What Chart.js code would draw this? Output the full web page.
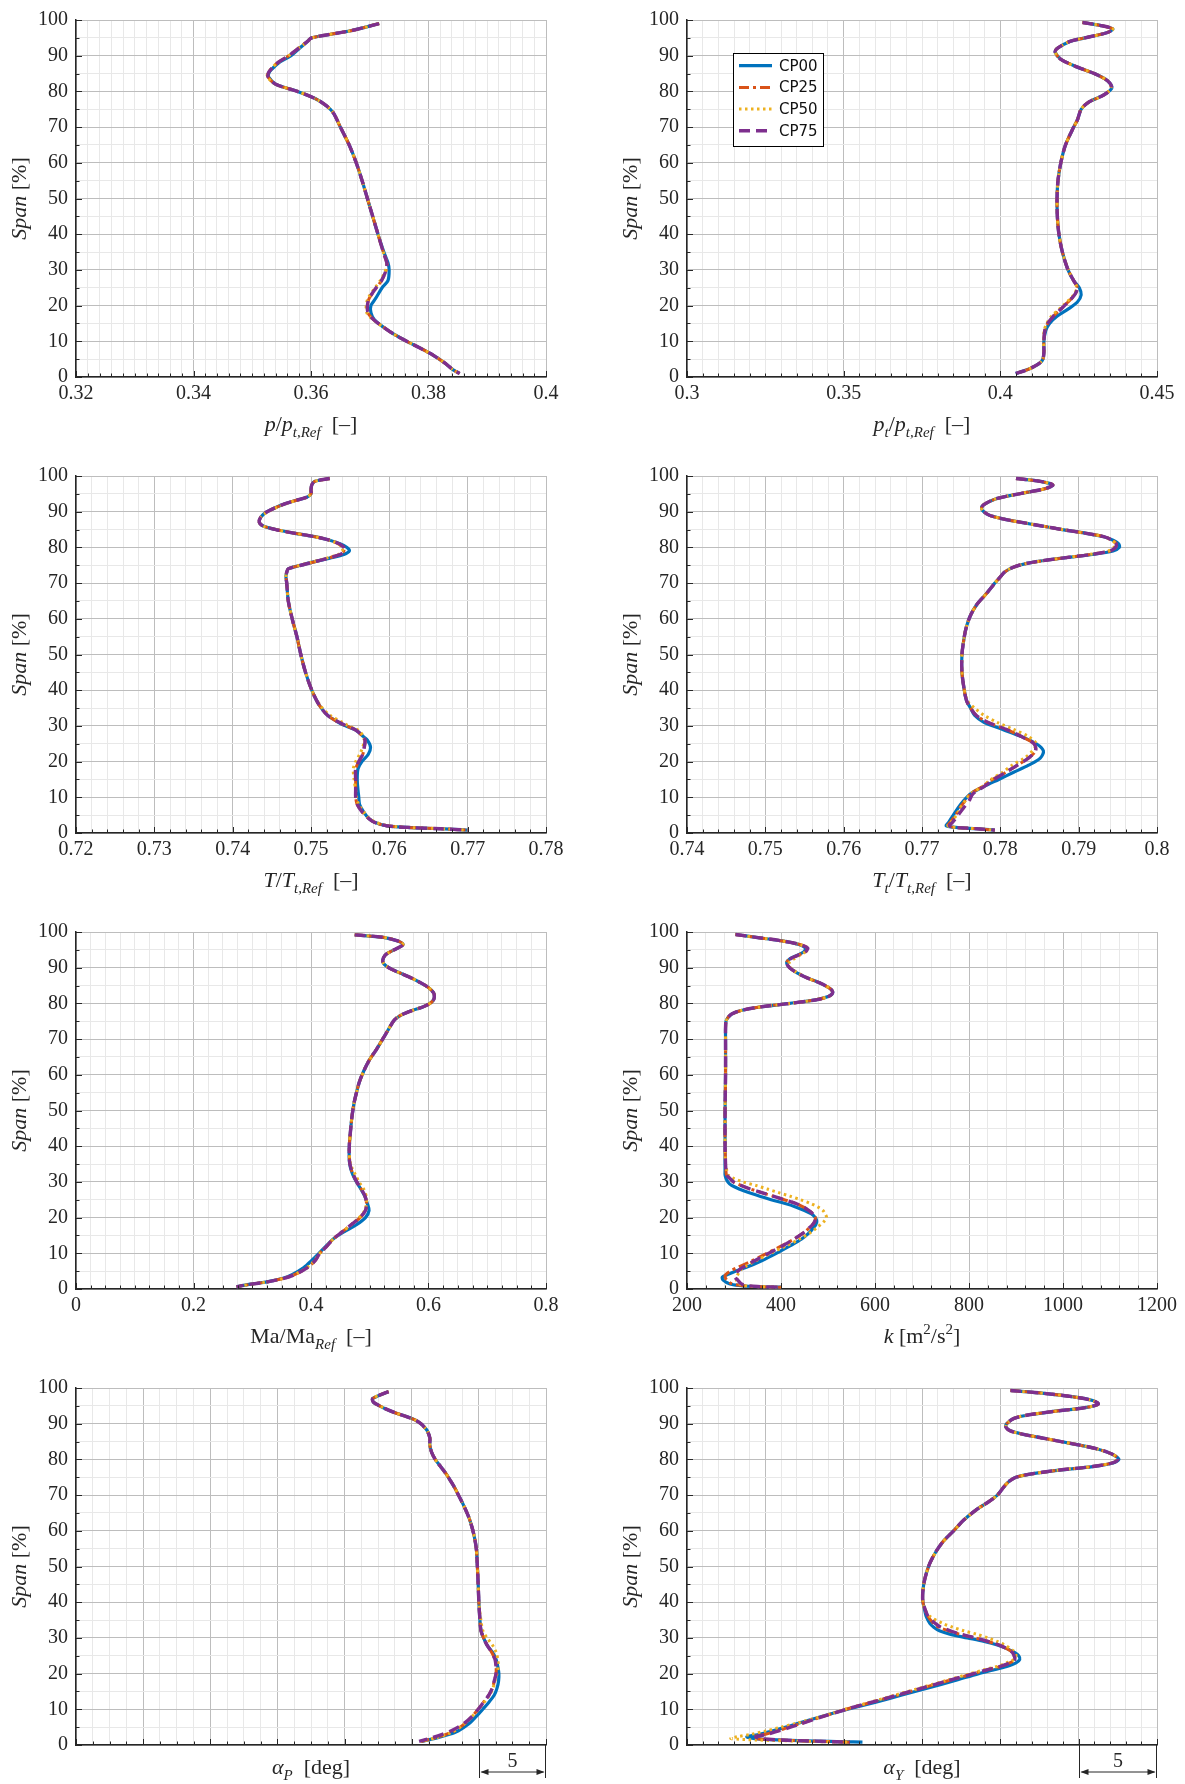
<!DOCTYPE html>
<html>
<head>
<meta charset="utf-8">
<script src="https://cdn.jsdelivr.net/npm/chart.js@4.4.1/dist/chart.umd.min.js"></script>
<style>
  html, body { margin: 0; padding: 0; background: #fff; }
  body { width: 1185px; height: 1784px; position: relative; overflow: hidden; }
  canvas { position: absolute; }
</style>
</head>
<body>
<canvas id="c1"></canvas><canvas id="c2"></canvas>
<canvas id="c3"></canvas><canvas id="c4"></canvas>
<canvas id="c5"></canvas><canvas id="c6"></canvas>
<canvas id="c7"></canvas><canvas id="c8"></canvas>
<script>
// ---- series ----
const seriesNames = ["CP00", "CP25", "CP50", "CP75"];
const seriesColors = ["#0072BD", "#D95319", "#EDB120", "#7E2F8E"];

// ---- x axes: [min, max, major step, minor step] per panel ----
const xMin = [0.32, 0.3, 0.72, 0.74, 0, 200, 0, 0];
const xMax = [0.4, 0.45, 0.78, 0.8, 0.8, 1200, 35, 30];
const xMajor = [0.02, 0.05, 0.01, 0.01, 0.2, 200, 5, 5];
const xMinor = [0.002, 0.005, 0.002, 0.002, 0.025, 40, 1.25, 1];
const spanTicks = [0, 100, 10, 5];

// ---- panel 1: p/pt,Ref ----
const p1Span = [99, 97, 95, 94, 92, 90, 88, 86, 85, 84, 82, 80, 78, 76, 74, 70, 65, 60, 55, 50, 45, 40, 35, 32, 30, 27, 25, 22, 20, 18, 16, 14, 12, 10, 8, 6, 4, 2, 1];
const p1CP00 = [0.3716, 0.3668, 0.3601, 0.3594, 0.3580, 0.3566, 0.3545, 0.3532, 0.3528, 0.3528, 0.3540, 0.3577, 0.3607, 0.3626, 0.3638, 0.3650, 0.3665, 0.3677, 0.3687, 0.3696, 0.3705, 0.3714, 0.3724, 0.3731, 0.3733, 0.3731, 0.3721, 0.3710, 0.3702, 0.3702, 0.3708, 0.3723, 0.3741, 0.3763, 0.3787, 0.3809, 0.3827, 0.3842, 0.3853];
const p1CP25 = [0.3716, 0.3668, 0.3601, 0.3594, 0.3578, 0.3562, 0.3543, 0.3531, 0.3527, 0.3527, 0.3540, 0.3577, 0.3607, 0.3626, 0.3638, 0.3650, 0.3665, 0.3677, 0.3687, 0.3696, 0.3705, 0.3714, 0.3723, 0.3729, 0.3728, 0.3720, 0.3711, 0.3699, 0.3696, 0.3697, 0.3707, 0.3723, 0.3741, 0.3763, 0.3787, 0.3809, 0.3827, 0.3842, 0.3853];
const p1CP50 = [0.3716, 0.3668, 0.3601, 0.3594, 0.3578, 0.3562, 0.3543, 0.3530, 0.3526, 0.3526, 0.3540, 0.3577, 0.3607, 0.3626, 0.3638, 0.3650, 0.3665, 0.3677, 0.3687, 0.3696, 0.3705, 0.3714, 0.3723, 0.3729, 0.3727, 0.3718, 0.3709, 0.3697, 0.3694, 0.3695, 0.3706, 0.3723, 0.3741, 0.3763, 0.3787, 0.3809, 0.3827, 0.3842, 0.3853];
const p1CP75 = [0.3716, 0.3668, 0.3601, 0.3594, 0.3578, 0.3562, 0.3543, 0.3531, 0.3527, 0.3527, 0.3540, 0.3577, 0.3607, 0.3626, 0.3638, 0.3650, 0.3665, 0.3677, 0.3687, 0.3696, 0.3705, 0.3714, 0.3723, 0.3729, 0.3728, 0.3720, 0.3711, 0.3699, 0.3696, 0.3697, 0.3707, 0.3723, 0.3741, 0.3763, 0.3787, 0.3809, 0.3827, 0.3842, 0.3853];

// ---- panel 2: pt/pt,Ref ----
const p2Span = [99.3, 98.5, 97.5, 96.5, 95, 94, 92, 91, 89, 87, 85, 83, 81, 79, 77, 75, 72, 70, 65, 60, 55, 50, 45, 40, 35, 30, 27, 25, 23, 21, 19, 17, 15, 13, 10, 7, 5, 4, 3, 2, 1];
const p2CP00 = [0.4262, 0.4318, 0.4359, 0.4342, 0.4270, 0.4222, 0.4181, 0.4175, 0.4193, 0.4240, 0.4300, 0.4342, 0.4356, 0.4330, 0.4282, 0.4258, 0.4246, 0.4234, 0.4208, 0.4193, 0.4184, 0.4181, 0.4182, 0.4187, 0.4198, 0.4216, 0.4234, 0.4252, 0.4258, 0.4246, 0.4216, 0.4181, 0.4157, 0.4145, 0.4139, 0.4139, 0.4136, 0.4127, 0.4109, 0.4085, 0.4049];
const p2CP25 = [0.4262, 0.4318, 0.4359, 0.4342, 0.4270, 0.4222, 0.4181, 0.4175, 0.4193, 0.4240, 0.4300, 0.4342, 0.4354, 0.4330, 0.4282, 0.4258, 0.4246, 0.4234, 0.4208, 0.4193, 0.4184, 0.4181, 0.4182, 0.4187, 0.4198, 0.4216, 0.4234, 0.4246, 0.4237, 0.4216, 0.4193, 0.4169, 0.4151, 0.4142, 0.4139, 0.4139, 0.4136, 0.4127, 0.4109, 0.4085, 0.4049];
const p2CP50 = [0.4262, 0.4318, 0.4359, 0.4342, 0.4270, 0.4222, 0.4181, 0.4175, 0.4193, 0.4240, 0.4300, 0.4342, 0.4354, 0.4330, 0.4282, 0.4258, 0.4246, 0.4234, 0.4208, 0.4193, 0.4184, 0.4181, 0.4182, 0.4187, 0.4198, 0.4217, 0.4234, 0.4244, 0.4234, 0.4212, 0.4188, 0.4163, 0.4148, 0.4140, 0.4138, 0.4139, 0.4136, 0.4127, 0.4109, 0.4085, 0.4049];
const p2CP75 = [0.4262, 0.4318, 0.4359, 0.4342, 0.4270, 0.4222, 0.4181, 0.4175, 0.4193, 0.4240, 0.4300, 0.4342, 0.4355, 0.4330, 0.4282, 0.4258, 0.4246, 0.4234, 0.4208, 0.4193, 0.4184, 0.4181, 0.4182, 0.4187, 0.4198, 0.4216, 0.4234, 0.4246, 0.4237, 0.4216, 0.4193, 0.4169, 0.4151, 0.4142, 0.4139, 0.4139, 0.4136, 0.4127, 0.4109, 0.4085, 0.4049];

// ---- panel 3: T/Tt,Ref ----
const p3Span = [99.3, 98.5, 97.5, 96, 95, 94, 93, 92, 90, 88.5, 87, 86, 85, 84, 83, 82, 81, 80, 79, 78, 77, 76, 75, 74, 73, 72, 70, 65, 60, 55, 50, 45, 40, 36, 33, 31, 30, 29, 28, 27, 26, 24, 22, 20, 18, 15, 12, 10, 8, 6, 4, 3, 2, 1.5, 1.2, 0.8];
const p3CP00 = [0.7524, 0.7505, 0.7501, 0.7500, 0.7500, 0.7494, 0.7478, 0.7464, 0.7444, 0.7436, 0.7434, 0.7439, 0.7455, 0.7478, 0.7505, 0.7524, 0.7537, 0.7546, 0.7549, 0.7542, 0.7524, 0.7505, 0.7487, 0.7471, 0.7469, 0.7468, 0.7469, 0.7471, 0.7476, 0.7482, 0.7487, 0.7493, 0.7501, 0.7510, 0.7521, 0.7535, 0.7544, 0.7556, 0.7562, 0.7567, 0.7572, 0.7576, 0.7573, 0.7565, 0.7560, 0.7559, 0.7560, 0.7561, 0.7562, 0.7567, 0.7574, 0.7581, 0.7597, 0.7629, 0.7665, 0.7700];
const p3CP25 = [0.7524, 0.7505, 0.7501, 0.7500, 0.7500, 0.7494, 0.7478, 0.7464, 0.7444, 0.7436, 0.7434, 0.7439, 0.7455, 0.7478, 0.7505, 0.7524, 0.7535, 0.7541, 0.7542, 0.7537, 0.7522, 0.7505, 0.7487, 0.7471, 0.7469, 0.7468, 0.7469, 0.7471, 0.7476, 0.7482, 0.7487, 0.7493, 0.7501, 0.7510, 0.7521, 0.7535, 0.7545, 0.7556, 0.7562, 0.7566, 0.7569, 0.7568, 0.7566, 0.7561, 0.7557, 0.7557, 0.7557, 0.7557, 0.7559, 0.7565, 0.7574, 0.7581, 0.7597, 0.7629, 0.7665, 0.7700];
const p3CP50 = [0.7524, 0.7505, 0.7501, 0.7500, 0.7500, 0.7494, 0.7479, 0.7465, 0.7445, 0.7436, 0.7434, 0.7439, 0.7455, 0.7478, 0.7505, 0.7524, 0.7535, 0.7540, 0.7540, 0.7535, 0.7520, 0.7503, 0.7486, 0.7471, 0.7469, 0.7468, 0.7469, 0.7471, 0.7476, 0.7482, 0.7487, 0.7493, 0.7501, 0.7511, 0.7524, 0.7540, 0.7548, 0.7559, 0.7564, 0.7567, 0.7568, 0.7566, 0.7562, 0.7557, 0.7554, 0.7555, 0.7557, 0.7558, 0.7561, 0.7567, 0.7575, 0.7583, 0.7599, 0.7630, 0.7665, 0.7700];
const p3CP75 = [0.7524, 0.7505, 0.7501, 0.7500, 0.7500, 0.7494, 0.7478, 0.7464, 0.7444, 0.7436, 0.7434, 0.7439, 0.7455, 0.7478, 0.7505, 0.7524, 0.7536, 0.7542, 0.7543, 0.7537, 0.7522, 0.7505, 0.7487, 0.7471, 0.7469, 0.7468, 0.7469, 0.7471, 0.7476, 0.7482, 0.7487, 0.7493, 0.7501, 0.7510, 0.7521, 0.7536, 0.7545, 0.7556, 0.7562, 0.7566, 0.7569, 0.7568, 0.7566, 0.7561, 0.7557, 0.7557, 0.7557, 0.7557, 0.7559, 0.7565, 0.7574, 0.7581, 0.7597, 0.7629, 0.7665, 0.7700];

// ---- panel 4: Tt/Tt,Ref ----
const p4Span = [99.3, 98.5, 97.5, 96.5, 95.5, 94.5, 93.5, 92, 91, 90, 89, 88, 87, 86, 85, 84, 83, 82, 81, 80, 79, 78, 77, 76, 75, 74, 73, 72, 70, 67, 64, 61, 58, 55, 50, 45, 40, 37, 35, 33, 31, 29, 27, 25, 23, 21, 19, 17, 15, 13, 11, 9, 7, 5, 3, 2, 1.5, 1.2, 0.8];
const p4CP00 = [0.7820, 0.7851, 0.7867, 0.7858, 0.7836, 0.7812, 0.7793, 0.7779, 0.7776, 0.7779, 0.7786, 0.7803, 0.7827, 0.7853, 0.7879, 0.7908, 0.7932, 0.7944, 0.7951, 0.7952, 0.7944, 0.7917, 0.7879, 0.7846, 0.7824, 0.7812, 0.7805, 0.7801, 0.7793, 0.7782, 0.7770, 0.7762, 0.7757, 0.7754, 0.7751, 0.7751, 0.7754, 0.7757, 0.7762, 0.7767, 0.7779, 0.7803, 0.7827, 0.7846, 0.7855, 0.7851, 0.7836, 0.7817, 0.7798, 0.7779, 0.7762, 0.7753, 0.7746, 0.7740, 0.7734, 0.7731, 0.7746, 0.7770, 0.7793];
const p4CP25 = [0.7820, 0.7851, 0.7867, 0.7858, 0.7836, 0.7812, 0.7793, 0.7779, 0.7776, 0.7779, 0.7786, 0.7803, 0.7827, 0.7853, 0.7879, 0.7908, 0.7932, 0.7943, 0.7948, 0.7947, 0.7940, 0.7915, 0.7879, 0.7846, 0.7824, 0.7812, 0.7805, 0.7801, 0.7793, 0.7782, 0.7770, 0.7762, 0.7757, 0.7754, 0.7751, 0.7751, 0.7754, 0.7757, 0.7762, 0.7769, 0.7784, 0.7808, 0.7827, 0.7843, 0.7845, 0.7836, 0.7822, 0.7807, 0.7790, 0.7777, 0.7762, 0.7755, 0.7748, 0.7743, 0.7736, 0.7733, 0.7746, 0.7770, 0.7793];
const p4CP50 = [0.7820, 0.7851, 0.7867, 0.7858, 0.7836, 0.7812, 0.7793, 0.7779, 0.7776, 0.7779, 0.7786, 0.7803, 0.7827, 0.7853, 0.7879, 0.7908, 0.7932, 0.7942, 0.7947, 0.7945, 0.7938, 0.7913, 0.7878, 0.7846, 0.7824, 0.7812, 0.7805, 0.7801, 0.7793, 0.7782, 0.7770, 0.7762, 0.7757, 0.7754, 0.7751, 0.7751, 0.7754, 0.7758, 0.7767, 0.7779, 0.7796, 0.7817, 0.7836, 0.7846, 0.7841, 0.7831, 0.7815, 0.7803, 0.7788, 0.7777, 0.7762, 0.7755, 0.7749, 0.7744, 0.7737, 0.7733, 0.7746, 0.7770, 0.7793];
const p4CP75 = [0.7820, 0.7851, 0.7867, 0.7858, 0.7836, 0.7812, 0.7793, 0.7779, 0.7776, 0.7779, 0.7786, 0.7803, 0.7827, 0.7853, 0.7879, 0.7908, 0.7932, 0.7943, 0.7948, 0.7947, 0.7940, 0.7915, 0.7879, 0.7846, 0.7824, 0.7812, 0.7805, 0.7801, 0.7793, 0.7782, 0.7770, 0.7762, 0.7757, 0.7754, 0.7751, 0.7751, 0.7754, 0.7757, 0.7762, 0.7769, 0.7784, 0.7808, 0.7827, 0.7843, 0.7845, 0.7836, 0.7822, 0.7807, 0.7792, 0.7779, 0.7765, 0.7760, 0.7753, 0.7746, 0.7739, 0.7735, 0.7746, 0.7770, 0.7793];

// ---- panel 5: Ma/MaRef ----
const p5Span = [99.2, 98.5, 97.5, 96.5, 95.5, 94.5, 93.5, 92, 91, 90, 89, 87.5, 86, 84.5, 83, 82, 81, 80, 79, 78, 77, 76, 75, 72, 70, 67, 64, 61, 58, 55, 52, 48, 44, 40, 36, 34, 32, 30, 28, 26, 24, 22, 20, 18, 16, 14, 12, 10, 8, 6, 4, 3, 2, 1.5, 1, 0.6];
const p5CP00 = [0.4744, 0.5232, 0.5476, 0.5567, 0.5476, 0.5354, 0.5262, 0.5220, 0.5244, 0.5323, 0.5445, 0.5659, 0.5841, 0.5994, 0.6085, 0.6100, 0.6085, 0.6024, 0.5902, 0.5720, 0.5567, 0.5463, 0.5402, 0.5293, 0.5220, 0.5110, 0.4988, 0.4896, 0.4823, 0.4774, 0.4732, 0.4695, 0.4671, 0.4652, 0.4652, 0.4671, 0.4713, 0.4774, 0.4848, 0.4915, 0.4957, 0.4988, 0.4927, 0.4774, 0.4561, 0.4378, 0.4256, 0.4134, 0.4012, 0.3878, 0.3677, 0.3524, 0.3250, 0.3037, 0.2854, 0.2732];
const p5CP25 = [0.4744, 0.5232, 0.5476, 0.5567, 0.5476, 0.5354, 0.5262, 0.5220, 0.5244, 0.5323, 0.5445, 0.5659, 0.5841, 0.5994, 0.6085, 0.6100, 0.6085, 0.6024, 0.5902, 0.5720, 0.5567, 0.5463, 0.5402, 0.5293, 0.5220, 0.5110, 0.4988, 0.4896, 0.4823, 0.4774, 0.4732, 0.4695, 0.4671, 0.4652, 0.4655, 0.4677, 0.4720, 0.4780, 0.4855, 0.4920, 0.4945, 0.4927, 0.4835, 0.4683, 0.4530, 0.4378, 0.4270, 0.4150, 0.4073, 0.3939, 0.3720, 0.3540, 0.3260, 0.3040, 0.2854, 0.2732];
const p5CP50 = [0.4744, 0.5232, 0.5476, 0.5567, 0.5476, 0.5354, 0.5262, 0.5220, 0.5244, 0.5323, 0.5445, 0.5659, 0.5841, 0.5994, 0.6085, 0.6100, 0.6085, 0.6024, 0.5902, 0.5720, 0.5567, 0.5463, 0.5402, 0.5293, 0.5220, 0.5110, 0.4988, 0.4896, 0.4823, 0.4774, 0.4732, 0.4695, 0.4671, 0.4655, 0.4660, 0.4695, 0.4756, 0.4817, 0.4896, 0.4939, 0.4945, 0.4915, 0.4820, 0.4683, 0.4530, 0.4378, 0.4265, 0.4150, 0.4060, 0.3930, 0.3715, 0.3535, 0.3255, 0.3040, 0.2854, 0.2732];
const p5CP75 = [0.4744, 0.5232, 0.5476, 0.5567, 0.5476, 0.5354, 0.5262, 0.5220, 0.5244, 0.5323, 0.5445, 0.5659, 0.5841, 0.5994, 0.6085, 0.6100, 0.6085, 0.6024, 0.5902, 0.5720, 0.5567, 0.5463, 0.5402, 0.5293, 0.5220, 0.5110, 0.4988, 0.4896, 0.4823, 0.4774, 0.4732, 0.4695, 0.4671, 0.4652, 0.4655, 0.4677, 0.4720, 0.4780, 0.4855, 0.4920, 0.4945, 0.4927, 0.4835, 0.4683, 0.4530, 0.4378, 0.4270, 0.4150, 0.4073, 0.3939, 0.3720, 0.3540, 0.3260, 0.3040, 0.2854, 0.2732];

// ---- panel 6: k ----
const p6Span = [99.3, 98.5, 97.5, 96.5, 95.5, 94.5, 93.5, 92.5, 91.5, 90.5, 89.5, 88.5, 87, 86, 85, 84, 83, 82, 81, 80, 79, 78, 77, 76, 75, 73, 70, 60, 50, 40, 35, 33, 32, 31, 30, 29, 28, 27, 26, 25, 24, 23, 22, 21, 20, 19, 18, 17, 16, 14, 12, 10, 8, 6, 5, 4, 3.3, 2.5, 1.5, 1, 0.7, 0.5];
const p6CP00 = [303, 347, 403, 438, 452, 449, 435, 419, 412, 415, 423, 435, 458, 478, 494, 506, 510, 502, 474, 419, 355, 315, 295, 287, 283, 282, 282, 282, 281, 281, 281, 281, 281, 283, 287, 295, 311, 331, 355, 379, 407, 431, 450, 465, 473, 476, 474, 468, 462, 444, 418, 390, 360, 325, 303, 285, 275, 277, 290, 310, 340, 400];
const p6CP25 = [303, 347, 403, 440, 458, 453, 437, 420, 412, 415, 423, 435, 458, 478, 494, 506, 510, 502, 474, 419, 355, 315, 295, 287, 283, 282, 282, 282, 281, 281, 282, 283, 284, 291, 299, 315, 335, 359, 383, 407, 431, 447, 459, 468, 473, 472, 467, 459, 451, 428, 400, 370, 340, 307, 292, 282, 281, 285, 295, 315, 345, 400];
const p6CP50 = [303, 347, 403, 440, 456, 452, 440, 428, 418, 417, 424, 436, 458, 478, 494, 506, 510, 502, 474, 419, 355, 315, 295, 287, 283, 282, 282, 282, 281, 281, 282, 285, 287, 299, 319, 347, 371, 395, 419, 442, 462, 478, 489, 494, 497, 492, 484, 475, 465, 440, 410, 378, 348, 320, 312, 308, 306, 305, 310, 320, 345, 400];
const p6CP75 = [303, 347, 403, 440, 457, 452, 436, 420, 412, 415, 423, 435, 458, 478, 494, 506, 510, 502, 474, 419, 355, 315, 295, 287, 283, 282, 282, 282, 281, 281, 282, 283, 284, 291, 299, 315, 335, 359, 383, 407, 431, 447, 459, 468, 473, 472, 467, 459, 451, 428, 402, 374, 345, 318, 308, 302, 302, 308, 315, 325, 350, 400];

// ---- panel 7: alpha_P ----
const p7Span = [99, 98, 97, 96, 95, 94, 93, 92, 91, 90, 89, 88, 86, 84, 82, 80, 78, 76, 74, 72, 70, 67, 64, 61, 58, 55, 50, 45, 40, 35, 32, 30, 28, 26, 24, 22, 20, 18, 16, 14, 12, 10, 8, 6, 4, 3, 2, 1];
const p7CP00 = [23.28, 22.61, 22.08, 22.16, 22.61, 23.15, 23.81, 24.61, 25.28, 25.68, 25.95, 26.16, 26.35, 26.35, 26.48, 26.75, 27.15, 27.55, 27.89, 28.21, 28.48, 28.88, 29.23, 29.49, 29.68, 29.81, 29.89, 29.95, 30.00, 30.08, 30.16, 30.35, 30.61, 31.01, 31.28, 31.41, 31.49, 31.47, 31.36, 31.15, 30.75, 30.29, 29.81, 29.28, 28.48, 27.81, 26.88, 25.68];
const p7CP25 = [23.28, 22.61, 22.08, 22.16, 22.61, 23.15, 23.81, 24.61, 25.28, 25.68, 25.95, 26.16, 26.35, 26.35, 26.48, 26.75, 27.15, 27.55, 27.89, 28.21, 28.48, 28.88, 29.23, 29.49, 29.68, 29.81, 29.89, 29.95, 30.00, 30.08, 30.16, 30.35, 30.61, 30.95, 31.20, 31.28, 31.28, 31.15, 31.01, 30.75, 30.35, 29.95, 29.49, 28.95, 28.21, 27.55, 26.75, 25.68];
const p7CP50 = [23.28, 22.61, 22.08, 22.16, 22.61, 23.15, 23.81, 24.61, 25.28, 25.68, 25.95, 26.16, 26.35, 26.35, 26.48, 26.75, 27.15, 27.55, 27.89, 28.21, 28.48, 28.88, 29.23, 29.49, 29.68, 29.81, 29.89, 29.95, 30.00, 30.15, 30.30, 30.61, 31.01, 31.28, 31.41, 31.45, 31.35, 31.20, 31.05, 30.80, 30.40, 29.95, 29.49, 28.95, 28.21, 27.60, 26.80, 25.68];
const p7CP75 = [23.28, 22.61, 22.08, 22.16, 22.61, 23.15, 23.81, 24.61, 25.28, 25.68, 25.95, 26.16, 26.35, 26.35, 26.48, 26.75, 27.15, 27.55, 27.89, 28.21, 28.48, 28.88, 29.23, 29.49, 29.68, 29.81, 29.89, 29.95, 30.00, 30.08, 30.16, 30.35, 30.61, 30.95, 31.20, 31.28, 31.28, 31.15, 31.01, 30.75, 30.35, 29.95, 29.49, 28.88, 27.95, 27.28, 26.48, 25.55];

// ---- panel 8: alpha_Y ----
const p8Span = [99.3, 98.5, 97.5, 96.5, 95.5, 94.5, 93.5, 92.5, 91.5, 90, 89, 88, 87, 86, 85, 84, 83, 82, 81, 80, 79, 78, 77, 76, 75, 74, 73, 72, 70, 68, 66, 63, 60, 57, 54, 51, 48, 45, 42, 40, 38, 36, 34, 33, 32, 31, 30, 29, 28, 27, 26, 25, 24, 23, 22, 21, 20, 18, 16, 14, 12, 10, 8, 6, 5, 4, 3, 2.3, 1.8, 1.4, 1.1, 0.9, 0.8];
const p8CP00 = [20.64, 22.79, 24.70, 25.89, 26.25, 25.42, 23.51, 21.84, 20.88, 20.41, 20.36, 20.64, 21.48, 22.67, 23.87, 25.06, 26.13, 26.85, 27.33, 27.57, 27.21, 25.89, 23.75, 22.08, 21.00, 20.60, 20.36, 20.17, 19.81, 19.21, 18.50, 17.66, 17.02, 16.35, 15.87, 15.51, 15.27, 15.11, 15.04, 15.06, 15.16, 15.27, 15.51, 15.75, 16.11, 16.83, 17.90, 18.97, 19.81, 20.41, 20.88, 21.17, 21.24, 21.00, 20.41, 19.56, 18.62, 17.06, 15.39, 13.72, 12.05, 10.26, 8.59, 7.04, 6.32, 5.49, 4.65, 3.82, 4.30, 6.00, 8.20, 10.00, 11.20];
const p8CP25 = [20.64, 22.79, 24.70, 25.89, 26.25, 25.42, 23.51, 21.84, 20.88, 20.41, 20.36, 20.64, 21.48, 22.67, 23.87, 25.06, 26.13, 26.85, 27.33, 27.50, 27.15, 25.89, 23.75, 22.08, 21.00, 20.60, 20.36, 20.17, 19.81, 19.21, 18.50, 17.66, 17.02, 16.35, 15.87, 15.51, 15.27, 15.11, 15.04, 15.06, 15.20, 15.39, 15.75, 16.05, 16.71, 17.43, 18.38, 19.21, 19.93, 20.41, 20.76, 20.88, 20.93, 20.60, 20.00, 19.10, 18.30, 16.65, 15.05, 13.45, 11.80, 10.15, 8.70, 7.25, 6.50, 5.80, 5.00, 4.30, 4.40, 6.00, 8.00, 9.50, 10.40];
const p8CP50 = [20.64, 22.79, 24.70, 25.89, 26.25, 25.42, 23.51, 21.84, 20.88, 20.41, 20.36, 20.64, 21.48, 22.67, 23.87, 25.06, 26.13, 26.85, 27.33, 27.45, 27.10, 25.85, 23.75, 22.08, 21.00, 20.60, 20.36, 20.17, 19.81, 19.21, 18.50, 17.66, 17.02, 16.35, 15.87, 15.51, 15.27, 15.11, 15.04, 15.06, 15.16, 15.51, 16.35, 16.95, 17.66, 18.50, 19.21, 19.81, 20.29, 20.64, 20.93, 21.00, 20.88, 20.40, 19.80, 18.90, 18.10, 16.50, 14.90, 13.30, 11.70, 10.10, 8.60, 6.90, 6.00, 5.10, 4.10, 3.20, 2.80, 4.50, 7.00, 9.00, 10.40];
const p8CP75 = [20.64, 22.79, 24.70, 25.89, 26.25, 25.42, 23.51, 21.84, 20.88, 20.41, 20.36, 20.64, 21.48, 22.67, 23.87, 25.06, 26.13, 26.85, 27.33, 27.50, 27.15, 25.89, 23.75, 22.08, 21.00, 20.60, 20.36, 20.17, 19.81, 19.21, 18.50, 17.66, 17.02, 16.35, 15.87, 15.51, 15.27, 15.11, 15.04, 15.06, 15.20, 15.39, 15.87, 16.20, 16.80, 17.50, 18.40, 19.21, 19.93, 20.41, 20.76, 20.88, 20.93, 20.60, 20.00, 19.10, 18.30, 16.65, 15.05, 13.45, 11.80, 10.15, 8.70, 7.30, 6.60, 5.90, 5.10, 4.40, 4.60, 6.00, 8.00, 9.50, 10.40];

const panels = [
  { span: p1Span, series: [p1CP00, p1CP25, p1CP50, p1CP75] },
  { span: p2Span, series: [p2CP00, p2CP25, p2CP50, p2CP75] },
  { span: p3Span, series: [p3CP00, p3CP25, p3CP50, p3CP75] },
  { span: p4Span, series: [p4CP00, p4CP25, p4CP50, p4CP75] },
  { span: p5Span, series: [p5CP00, p5CP25, p5CP50, p5CP75] },
  { span: p6Span, series: [p6CP00, p6CP25, p6CP50, p6CP75] },
  { span: p7Span, series: [p7CP00, p7CP25, p7CP50, p7CP75] },
  { span: p8Span, series: [p8CP00, p8CP25, p8CP50, p8CP75] },
];

// axis titles, as runs of text (it = italic, sub / sup = small raised/lowered)
const xTitles = [
  [{ t: "p", it: 1 }, { t: "/" }, { t: "p", it: 1 }, { t: "t,Ref", it: 1, sub: 1 }, { t: "  [\u2013]" }],
  [{ t: "p", it: 1 }, { t: "t", it: 1, sub: 1 }, { t: "/" }, { t: "p", it: 1 }, { t: "t,Ref", it: 1, sub: 1 }, { t: "  [\u2013]" }],
  [{ t: "T", it: 1 }, { t: "/" }, { t: "T", it: 1 }, { t: "t,Ref", it: 1, sub: 1 }, { t: "  [\u2013]" }],
  [{ t: "T", it: 1 }, { t: "t", it: 1, sub: 1 }, { t: "/" }, { t: "T", it: 1 }, { t: "t,Ref", it: 1, sub: 1 }, { t: "  [\u2013]" }],
  [{ t: "Ma/Ma" }, { t: "Ref", it: 1, sub: 1 }, { t: "  [\u2013]" }],
  [{ t: "k", it: 1 }, { t: " [m" }, { t: "2", sup: 1 }, { t: "/s" }, { t: "2", sup: 1 }, { t: "]" }],
  [{ t: "\u03b1", it: 1 }, { t: "P", it: 1, sub: 1 }, { t: "  [deg]" }],
  [{ t: "\u03b1", it: 1 }, { t: "Y", it: 1, sub: 1 }, { t: "  [deg]" }],
];
const yTitle = [{ t: "Span", it: 1 }, { t: " [%]" }];

const ink = "#262626";
const serif = "'Liberation Serif', 'DejaVu Serif', serif";
const titleSize = 22;

function isMajor(v, step) {
  const r = v / step;
  return Math.abs(r - Math.round(r)) < 1e-6;
}

function tickList(min, max, step) {
  const n = Math.round((max - min) / step);
  return Array.from({ length: n + 1 }, (_, i) => +(min + i * step).toFixed(6));
}

function richText(ctx, segs, cx, baseY, size) {
  const small = Math.round(size * 0.7);
  const fontOf = (s) => (s.it ? "italic " : "") + (s.sub || s.sup ? small : size) + "px " + serif;
  let total = 0;
  const widths = segs.map((s) => {
    ctx.font = fontOf(s);
    const w = ctx.measureText(s.t).width;
    total += w;
    return w;
  });
  let x = cx - total / 2;
  ctx.textAlign = "left";
  ctx.textBaseline = "alphabetic";
  segs.forEach((s, i) => {
    ctx.font = fontOf(s);
    const dy = s.sub ? size * 0.25 : s.sup ? -size * 0.42 : 0;
    ctx.fillText(s.t, x, baseY + dy);
    x += widths[i];
  });
}

const deco = {
  id: "deco",
  afterDraw(chart, args, o) {
    const { ctx, chartArea: a } = chart;
    const xs = chart.scales.x;
    const ys = chart.scales.y;
    ctx.save();

    // small inward tick marks on the bottom and left axes
    ctx.strokeStyle = ink;
    ctx.lineWidth = 1;
    ctx.beginPath();
    xs.ticks.forEach((t) => {
      const px = Math.round(xs.getPixelForValue(t.value)) + 0.5;
      const len = isMajor(t.value, o.major) ? 6 : 3.5;
      ctx.moveTo(px, a.bottom);
      ctx.lineTo(px, a.bottom - len);
    });
    ys.ticks.forEach((t) => {
      const py = Math.round(ys.getPixelForValue(t.value)) + 0.5;
      const len = isMajor(t.value, spanTicks[2]) ? 6 : 3.5;
      ctx.moveTo(a.left, py);
      ctx.lineTo(a.left + len, py);
    });
    ctx.stroke();

    // axis titles
    ctx.fillStyle = ink;
    richText(ctx, o.xTitle, (a.left + a.right) / 2, a.bottom + o.titleGap, titleSize);
    ctx.save();
    ctx.translate(a.left - 57, (a.top + a.bottom) / 2);
    ctx.rotate(-Math.PI / 2);
    richText(ctx, yTitle, 0, 7, titleSize);
    ctx.restore();

    // scale bar for the angle panels
    if (o.bar) {
      const p1 = Math.round(xs.getPixelForValue(o.bar[0])) + 0.5;
      const p2 = Math.round(xs.getPixelForValue(o.bar[1])) - 0.5;
      const ay = a.bottom + 27;
      ctx.strokeStyle = ink;
      ctx.lineWidth = 1;
      ctx.beginPath();
      ctx.moveTo(p1, a.bottom);
      ctx.lineTo(p1, a.bottom + 33);
      ctx.moveTo(p2, a.bottom);
      ctx.lineTo(p2, a.bottom + 33);
      ctx.moveTo(p1 + 2, ay);
      ctx.lineTo(p2 - 2, ay);
      ctx.stroke();
      ctx.beginPath();
      ctx.moveTo(p1 + 1, ay);
      ctx.lineTo(p1 + 9, ay - 3);
      ctx.lineTo(p1 + 9, ay + 3);
      ctx.closePath();
      ctx.moveTo(p2 - 1, ay);
      ctx.lineTo(p2 - 9, ay - 3);
      ctx.lineTo(p2 - 9, ay + 3);
      ctx.closePath();
      ctx.fill();
      ctx.font = "20px " + serif;
      ctx.textAlign = "center";
      ctx.textBaseline = "alphabetic";
      ctx.fillText(o.bar[2], (p1 + p2) / 2, a.bottom + 22);
    }

    // legend box
    if (o.legend) {
      const bx = a.left + 46;
      const by = a.top + 33;
      const bw = 90;
      const bh = 93;
      ctx.fillStyle = "#fff";
      ctx.fillRect(bx, by, bw, bh);
      ctx.strokeStyle = "#000";
      ctx.lineWidth = 1;
      ctx.strokeRect(bx + 0.5, by + 0.5, bw, bh);
      chart.data.datasets.forEach((ds, i) => {
        const yy = by + 12.7 + i * 21.7;
        ctx.strokeStyle = ds.borderColor;
        ctx.lineWidth = ds.borderWidth;
        ctx.setLineDash(ds.borderDash);
        ctx.beginPath();
        ctx.moveTo(bx + 6, yy);
        ctx.lineTo(bx + 39, yy);
        ctx.stroke();
        ctx.setLineDash([]);
        ctx.fillStyle = "#111";
        ctx.font = "15px 'DejaVu Sans', sans-serif";
        ctx.textAlign = "left";
        ctx.textBaseline = "middle";
        ctx.fillText(ds.label, bx + 46, yy + 1);
      });
    }
    ctx.restore();
  },
};

Chart.defaults.font.family = serif;
Chart.defaults.font.size = 20;
Chart.defaults.color = ink;

const dashes = [[], [10, 4, 3, 4], [2.5, 3.5], [11, 6]];
const widths = [3.2, 3, 3, 3.4];

function drawPanel(i) {
  const canvas = document.getElementById("c" + (i + 1));
  const col = i % 2;
  const row = Math.floor(i / 2);
  const W = col ? 574 : 600;
  const H = row === 3 ? 416 : 456;
  canvas.width = W;
  canvas.height = H;
  canvas.style.width = W + "px";
  canvas.style.height = H + "px";
  canvas.style.left = (col ? 611 : 0) + "px";
  canvas.style.top = row * 456 + "px";

  const p = panels[i];
  const lastRow = row === 3;
  const datasets = p.series.map((vals, k) => ({
    label: seriesNames[k],
    data: p.span.map((s, j) => ({ x: vals[j], y: s })),
    borderColor: seriesColors[k],
    backgroundColor: seriesColors[k],
    borderWidth: widths[k],
    borderDash: dashes[k],
    showLine: true,
    pointRadius: 0,
    tension: 0.3,
    order: 4 - k,
  }));

  const gridColor = (step) => (c) =>
    c.tick && isMajor(c.tick.value, step) ? "#BDBDBD" : "#E8E8E8";

  new Chart(canvas, {
    type: "scatter",
    data: { datasets },
    options: {
      responsive: false,
      devicePixelRatio: 1,
      animation: false,
      events: [],
      layout: { padding: { top: 16, right: col ? 28 : 54, bottom: 0, left: 0 } },
      plugins: {
        legend: { display: false },
        tooltip: { enabled: false },
        deco: {
          major: xMajor[i],
          xTitle: xTitles[i],
          titleGap: lastRow ? 29 : 54,
          legend: i === 1,
          bar: lastRow ? [xMax[i] - xMajor[i], xMax[i], "5"] : null,
        },
      },
      scales: {
        x: {
          type: "linear",
          min: xMin[i],
          max: xMax[i],
          afterBuildTicks: (sc) => {
            sc.ticks = tickList(xMin[i], xMax[i], xMinor[i]).map((v) => ({ value: v }));
          },
          afterFit: (sc) => {
            sc.height = H - 16 - 361;
          },
          ticks: {
            display: !lastRow,
            autoSkip: false,
            maxRotation: 0,
            minRotation: 0,
            padding: 5,
            callback: (v) => (isMajor(v, xMajor[i]) ? String(parseFloat(v.toFixed(4))) : ""),
          },
          grid: { color: gridColor(xMajor[i]), lineWidth: 1, drawTicks: false },
          border: { color: ink, width: 1.5 },
        },
        y: {
          type: "linear",
          min: spanTicks[0],
          max: spanTicks[1],
          afterBuildTicks: (sc) => {
            sc.ticks = tickList(spanTicks[0], spanTicks[1], spanTicks[3]).map((v) => ({ value: v }));
          },
          afterFit: (sc) => {
            sc.width = 76;
          },
          ticks: {
            autoSkip: false,
            padding: 8,
            callback: (v) => (isMajor(v, spanTicks[2]) ? String(v) : ""),
          },
          grid: { color: gridColor(spanTicks[2]), lineWidth: 1, drawTicks: false },
          border: { color: ink, width: 1.5 },
        },
      },
    },
    plugins: [deco],
  });
}

for (let i = 0; i < 8; i++) drawPanel(i);
</script>
</body>
</html>
